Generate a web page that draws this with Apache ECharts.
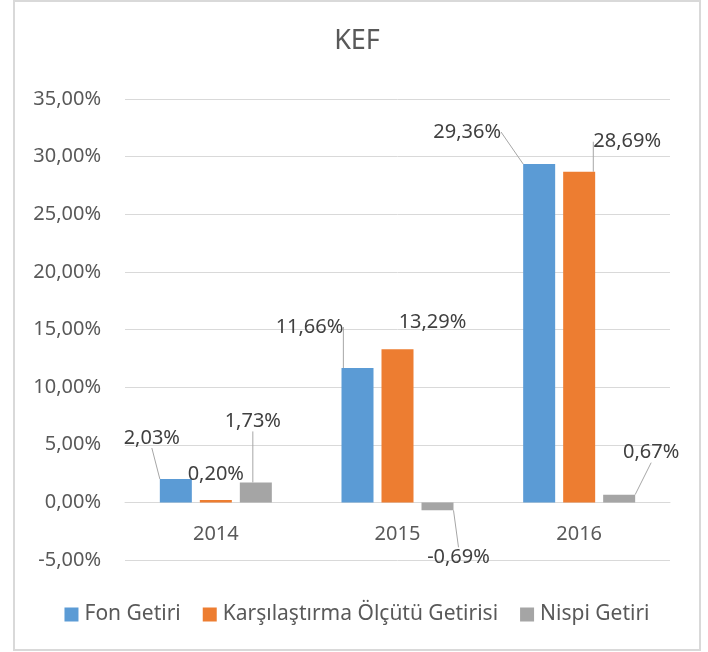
<!DOCTYPE html>
<html>
<head>
<meta charset="utf-8">
<script src="https://cdn.jsdelivr.net/npm/echarts@6/dist/echarts.min.js"></script>
<style>
  html, body { margin: 0; padding: 0; background: #fff; }
  #chart { position: absolute; left: 13px; top: 0; width: 688px; height: 651px;
           border: 2px solid #d9d9d9; box-sizing: border-box; }
</style>
</head>
<body>
<div id="chart"></div>
<script>
// yillar ve seriler
let years = ['2014', '2015', '2016'];
let seriesNames = ['Fon Getiri', 'Karşılaştırma Ölçütü Getirisi', 'Nispi Getiri'];
let fonGetiri = [2.03, 11.66, 29.36];
let olcutGetirisi = [0.20, 13.29, 28.69];
let nispiGetiri = [1.73, -0.69, 0.67];

let colors = ['#5b9bd5', '#ed7d31', '#a5a5a5'];
// etiket kaydirma (cubuk ucuna gore, px) ve cizgisiz etiketler
let labelShift = [
    [[-24, -41], [-48, -41], [-72, -32]],
    [[0, -26], [35, -27], [48, -30]],
    [[-3, -61], [21, 47], [32, -42]]
];
let noLine = [[], [0, 1], []];

let FONT = 'Noto Sans';
let fmt = function (v) {
    return v.toFixed(2).replace('.', ',') + '%';
};

let allValues = [fonGetiri, olcutGetirisi, nispiGetiri];
let myChart = echarts.init(document.getElementById('chart'));

let series = [];
for (let s = 0; s < allValues.length; s++) {
    series.push({
        name: seriesNames[s],
        type: 'bar',
        barWidth: 32,
        barGap: '25%',
        itemStyle: { color: colors[s] },
        data: allValues[s].map(function (v, i) {
            let item = { value: v };
            if (noLine[s].indexOf(i) >= 0) {
                item.labelLine = { show: false };
            }
            return item;
        }),
        label: {
            show: true,
            position: 'top',
            color: '#404040',
            fontSize: 20,
            fontFamily: FONT,
            formatter: function (p) { return fmt(p.value); }
        },
        labelLine: {
            show: true,
            lineStyle: { color: '#a6a6a6', width: 1 }
        },
        labelLayout: function (params) {
            let si = params.seriesIndex, di = params.dataIndex;
            let r = params.rect;
            let v = allValues[si][di];
            let off = labelShift[si][di];
            let cx = r.x + r.width / 2;
            let ay = v >= 0 ? Math.min(r.y, r.y + r.height) : Math.max(r.y, r.y + r.height);
            return {
                x: cx + off[0],
                y: ay + off[1],
                align: 'center',
                verticalAlign: 'middle'
            };
        }
    });
}

// sifir cizgisi grid altindan bir adim (5%) yukarida
let gridTop = 97, gridBottom = 89;
let plotH = 651 - 4 - gridTop - gridBottom;
let zeroOffset = plotH * 5 / 40;

let option = {
    animation: false,
    textStyle: { fontFamily: FONT },
    title: {
        text: 'KEF',
        left: 'center',
        top: 21,
        textStyle: { fontSize: 27, fontWeight: 'normal', color: '#595959', fontFamily: FONT }
    },
    legend: {
        top: 597,
        left: 'center',
        itemWidth: 14,
        itemHeight: 14,
        itemGap: 22,
        icon: 'rect',
        textStyle: { fontSize: 21, color: '#595959', fontFamily: FONT, padding: [0, 0, 0, 1] },
        data: seriesNames
    },
    grid: { left: 110, right: 29, top: gridTop, bottom: gridBottom },
    xAxis: {
        type: 'category',
        data: years,
        offset: -zeroOffset,
        axisLine: { show: true, onZero: false, lineStyle: { color: '#d9d9d9', width: 1 } },
        axisTick: { show: false },
        axisLabel: { color: '#595959', fontSize: 20, fontFamily: FONT, margin: 22 }
    },
    yAxis: {
        type: 'value',
        min: -5,
        max: 35,
        interval: 5,
        axisLine: { show: false },
        axisTick: { show: false },
        splitLine: { lineStyle: { color: '#d9d9d9', width: 1 } },
        axisLabel: {
            color: '#595959',
            fontSize: 20,
            fontFamily: FONT,
            margin: 24,
            formatter: function (v) { return fmt(v); }
        }
    },
    series: series
};

myChart.setOption(option);
</script>
</body>
</html>
